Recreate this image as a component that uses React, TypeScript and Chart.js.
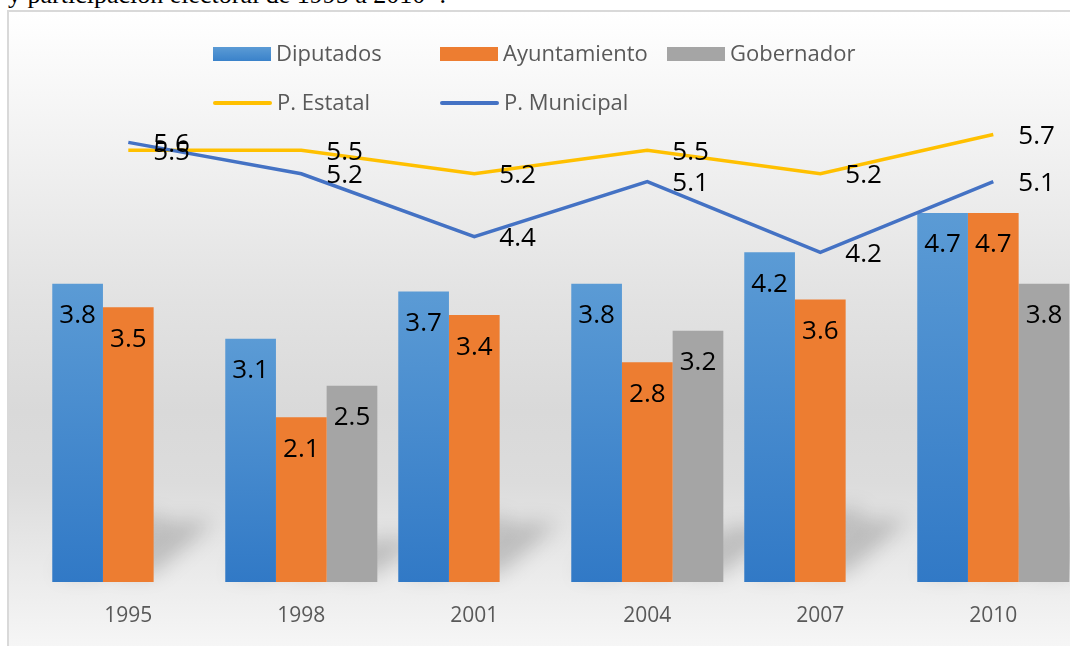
import React, { useEffect, useRef } from "react";
import { Chart, registerables } from "chart.js";

Chart.register(...registerables);

const years = ["1995", "1998", "2001", "2004", "2007", "2010"];
const diputados = [3.8, 3.1, 3.7, 3.8, 4.2, 4.7];
const ayuntamiento = [3.5, 2.1, 3.4, 2.8, 3.6, 4.7];
const gobernador = [null, 2.5, null, 3.2, null, 3.8];
const pEstatal = [5.5, 5.5, 5.2, 5.5, 5.2, 5.7];
const pMunicipal = [5.6, 5.2, 4.4, 5.1, 4.2, 5.1];

const seriesNames = ["Diputados", "Ayuntamiento", "Gobernador", "P. Estatal", "P. Municipal"];

const FONT = "'Open Sans', 'DejaVu Sans', sans-serif";

const blueFill = (ctx: any) => {
  const chart = ctx.chart;
  const y = chart.scales && chart.scales.y;
  if (!y || ctx.raw == null) return "#4a8fd2";
  const top = y.getPixelForValue(ctx.raw);
  const bottom = y.getPixelForValue(0);
  if (!isFinite(top) || !isFinite(bottom) || top === bottom) return "#4a8fd2";
  const g = chart.ctx.createLinearGradient(0, top, 0, bottom);
  g.addColorStop(0, "#5b9bd5");
  g.addColorStop(1, "#3179c6");
  return g;
};

const shadowPlugin = {
  id: "barShadows",
  beforeDatasetsDraw(chart: any) {
    const c = chart.ctx;
    c.save();
    c.filter = "blur(10px)";
    c.fillStyle = "rgba(0,0,0,0.18)";
    chart.data.datasets.forEach((ds: any, i: number) => {
      const meta = chart.getDatasetMeta(i);
      if (meta.type !== "bar") return;
      meta.data.forEach((el: any, j: number) => {
        if (ds.data[j] == null) return;
        const p = el.getProps(["x", "y", "base", "width"], true);
        const h = p.base - p.y;
        const s = h * 0.22;
        const l = p.x - p.width / 2;
        const r = p.x + p.width / 2;
        c.beginPath();
        c.moveTo(l + 4, p.base - 8);
        c.lineTo(r, p.base - 8);
        c.lineTo(r + s, p.base - s);
        c.lineTo(l + s, p.base - s);
        c.closePath();
        c.fill();
      });
    });
    c.restore();
  },
};

const labelPlugin = {
  id: "valueLabels",
  afterDatasetsDraw(chart: any) {
    const c = chart.ctx;
    c.save();
    c.font = `26px ${FONT}`;
    c.fillStyle = "#000000";
    c.textBaseline = "middle";
    chart.data.datasets.forEach((ds: any, i: number) => {
      const meta = chart.getDatasetMeta(i);
      meta.data.forEach((el: any, j: number) => {
        const v = ds.data[j];
        if (v == null) return;
        const txt = Number(v).toFixed(1);
        if (meta.type === "bar") {
          c.textAlign = "center";
          c.fillText(txt, el.x, el.y + 32);
        } else {
          c.textAlign = "left";
          c.fillText(txt, el.x + 25, el.y + 2);
        }
      });
    });
    c.restore();
  },
};

function LegendItem(props: { left: number; top: number; kind: "box" | "line"; color: string; label: string }) {
  const { left, top, kind, color, label } = props;
  const mark =
    kind === "box" ? (
      <div
        style={{
          position: "absolute",
          left,
          top,
          width: 58,
          height: 14,
          background: color,
        }}
      />
    ) : (
      <div
        style={{
          position: "absolute",
          left,
          top: top + 5,
          width: 59,
          height: 3.5,
          borderRadius: 2,
          background: color,
        }}
      />
    );
  return (
    <>
      {mark}
      <div
        style={{
          position: "absolute",
          left: left + (kind === "box" ? 63 : 64),
          top: top - 6.5,
          font: `22px ${FONT}`,
          lineHeight: "22px",
          color: "#595959",
          whiteSpace: "nowrap",
        }}
      >
        {label}
      </div>
    </>
  );
}

export default function App() {
  const canvasRef = useRef<HTMLCanvasElement | null>(null);

  useEffect(() => {
    const canvas = canvasRef.current;
    if (!canvas) return;
    const chart = new Chart(canvas, {
      type: "bar",
      data: {
        labels: years,
        datasets: [
          {
            type: "line",
            label: seriesNames[4],
            data: pMunicipal,
            borderColor: "#4472c4",
            borderWidth: 3.5,
            pointRadius: 0,
            tension: 0,
            fill: false,
            order: 0,
          },
          {
            type: "line",
            label: seriesNames[3],
            data: pEstatal,
            borderColor: "#ffc000",
            borderWidth: 3.5,
            pointRadius: 0,
            tension: 0,
            fill: false,
            order: 1,
          },
          {
            type: "bar",
            label: seriesNames[0],
            data: diputados,
            backgroundColor: blueFill,
            borderWidth: 0,
            order: 2,
          },
          {
            type: "bar",
            label: seriesNames[1],
            data: ayuntamiento,
            backgroundColor: "#ed7d31",
            borderWidth: 0,
            order: 3,
          },
          {
            type: "bar",
            label: seriesNames[2],
            data: gobernador,
            backgroundColor: "#a5a5a5",
            borderWidth: 0,
            order: 4,
          },
        ] as any,
      },
      options: {
        animation: false,
        responsive: false,
        devicePixelRatio: 1,
        layout: { padding: { left: 41.8, right: 20.2, top: 32.5, bottom: 10.8 } },
        datasets: {
          bar: { categoryPercentage: 0.879, barPercentage: 1.0 },
        } as any,
        plugins: {
          legend: { display: false },
          title: { display: false },
          tooltip: { enabled: false },
        },
        scales: {
          x: {
            offset: true,
            grid: { display: false, drawTicks: false },
            border: { display: false },
            ticks: {
              color: "#595959",
              font: { family: FONT, size: 21 },
              padding: 21,
            },
          },
          y: {
            display: false,
            min: 0,
            max: 7,
          },
        },
      },
      plugins: [shadowPlugin, labelPlugin],
    });
    return () => chart.destroy();
  }, []);

  return (
    <div
      style={{
        position: "fixed",
        left: 0,
        top: 0,
        width: 1070,
        height: 646,
        overflow: "hidden",
        background: "#ffffff",
      }}
    >
      <div
        style={{
          position: "absolute",
          left: 8,
          top: -18,
          font: "26px 'Liberation Serif', 'Times New Roman', serif",
          lineHeight: "26px",
          color: "#000",
          whiteSpace: "nowrap",
        }}
      >
        y participación electoral de 1995 a 2010 ¹.
      </div>
      <div
        style={{
          position: "absolute",
          left: 7,
          top: 10,
          width: 1200,
          height: 700,
          boxSizing: "border-box",
          borderLeft: "2px solid #d9d9d9",
          borderTop: "2px solid #d9d9d9",
          background:
            "linear-gradient(180deg, #ffffff 0px, #f6f6f6 90px, #ececec 190px, #e2e2e2 290px, #d9d9d9 400px, #dcdcdc 470px, #e9e9e9 550px, #f6f6f6 636px, #fafafa 700px)",
        }}
      />
      <canvas
        ref={canvasRef}
        width={1100}
        height={660}
        style={{ position: "absolute", left: 0, top: 0, width: 1100, height: 660 }}
      />
      <LegendItem left={213} top={47} kind="box" color="linear-gradient(180deg,#5b9bd5,#3a82ca)" label={seriesNames[0]} />
      <LegendItem left={440} top={47} kind="box" color="#ed7d31" label={seriesNames[1]} />
      <LegendItem left={667} top={47} kind="box" color="#a5a5a5" label={seriesNames[2]} />
      <LegendItem left={213} top={96} kind="line" color="#ffc000" label={seriesNames[3]} />
      <LegendItem left={440} top={96} kind="line" color="#4472c4" label={seriesNames[4]} />
    </div>
  );
}
